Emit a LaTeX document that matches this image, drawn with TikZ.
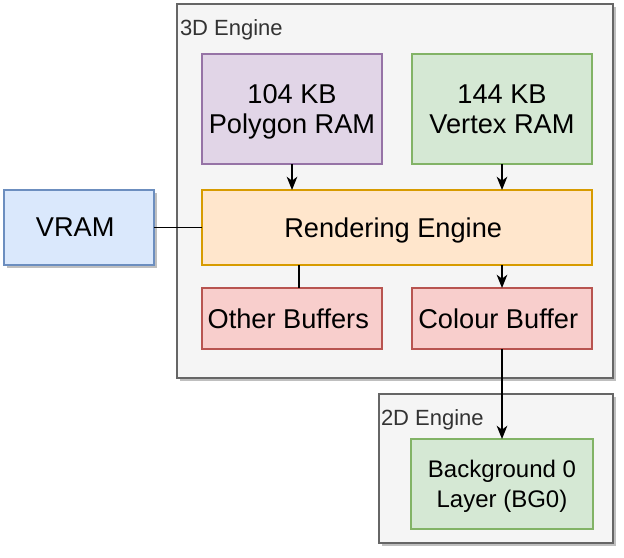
\documentclass[tikz,border=0pt]{standalone}
\usepackage{fontspec}
\setmainfont{Liberation Sans}
\usetikzlibrary{arrows.meta,positioning,shadows}
\usepackage{xcolor}

\definecolor{groupfill}{HTML}{F5F5F5}
\definecolor{groupline}{HTML}{666666}
\definecolor{grouptext}{HTML}{333333}
\definecolor{purplefill}{HTML}{E1D5E7}
\definecolor{purpleline}{HTML}{9673A6}
\definecolor{greenfill}{HTML}{D5E8D4}
\definecolor{greenline}{HTML}{82B366}
\definecolor{orangefill}{HTML}{FFE6CC}
\definecolor{orangeline}{HTML}{D79B00}
\definecolor{bluefill}{HTML}{DAE8FC}
\definecolor{blueline}{HTML}{6C8EBF}
\definecolor{redfill}{HTML}{F8CECC}
\definecolor{redline}{HTML}{B85450}

\begin{document}
\begin{tikzpicture}[x=0.75pt, y=-0.75pt, every node/.style={
    rectangle,
    inner sep=0pt,
    outer sep=0pt,
    draw,
    line width=1pt,
    align=center,
    text depth=0pt,
    font=\fontsize{20.4}{22.5}\selectfont
},
group/.style={fill=groupfill, draw=groupline, drop shadow={shadow xshift=2.5pt, shadow yshift=-2.5pt, fill=black, opacity=0.25}},
grouplabel/.style={draw=none, anchor=west, text=grouptext, font=\fontsize{16.5}{18}\selectfont},
link/.style={line width=1pt},
arrow/.style={line width=1pt, -{Stealth[length=10pt, width=8pt, inset=3pt]}}
]

    \useasboundingbox (0,0) rectangle (624,557);



    \node (engine_3d) [group, minimum width=327pt, minimum height=280.5pt, shift={(395, 191)}] {};

    \node (engine_3d_label) [grouplabel, shift={(180, 28)}] {3D Engine};

    \node (engine_2d) [group, minimum width=175.5pt, minimum height=111.75pt, shift={(496, 468.5)}] {};

    \node (engine_2d_label) [grouplabel, shift={(381, 418)}] {2D Engine};





    \node (polygon_ram) [fill=purplefill, draw=purpleline, minimum width=135pt, minimum height=82.5pt, shift={(292, 109)}]
    {
        104 KB\\Polygon RAM
    };

    \node (vertex_ram) [fill=greenfill, draw=greenline, minimum width=135pt, minimum height=82.5pt, shift={(502, 109)}]
    {
        144 KB\\Vertex RAM
    };

    \node (rendering_engine) [fill=orangefill, draw=orangeline, minimum width=292.5pt, minimum height=56.25pt, shift={(397, 227.5)}]
    {
        Rendering Engine
    };

    \node (vram) [fill=bluefill, draw=blueline, minimum width=112.5pt, minimum height=56.25pt, shift={(79, 227.5)},
        drop shadow={shadow xshift=2.5pt, shadow yshift=-2.5pt, fill=black, opacity=0.25}]
    {
        VRAM
    };

    \node (other_buffers) [fill=redfill, draw=redline, minimum width=135pt, minimum height=45.75pt, shift={(292, 318.5)}]
    {
        Other Buffers
    };

    \node (colour_buffer) [fill=redfill, draw=redline, minimum width=135pt, minimum height=45.75pt, shift={(502, 318.5)}]
    {
        Colour Buffer
    };

    \node (background_layer) [fill=greenfill, draw=greenline, minimum width=136.5pt, minimum height=67.5pt, shift={(502, 484)},
        font=\fontsize{18}{22.5}\selectfont]
    {
        Background 0\\Layer (BG0)
    };


    \coordinate (other_link) at (299, 0);

    \draw[arrow] (polygon_ram) to (rendering_engine.north -| polygon_ram);
    \draw[arrow] (vertex_ram) to (rendering_engine.north -| vertex_ram);
    \draw[link] (vram) to (rendering_engine);
    \draw[link] (rendering_engine.south -| other_link) to (other_buffers.north -| other_link);
    \draw[arrow] (rendering_engine.south -| colour_buffer) to (colour_buffer);
    \draw[arrow] (colour_buffer) to (background_layer);


\end{tikzpicture}
\end{document}
